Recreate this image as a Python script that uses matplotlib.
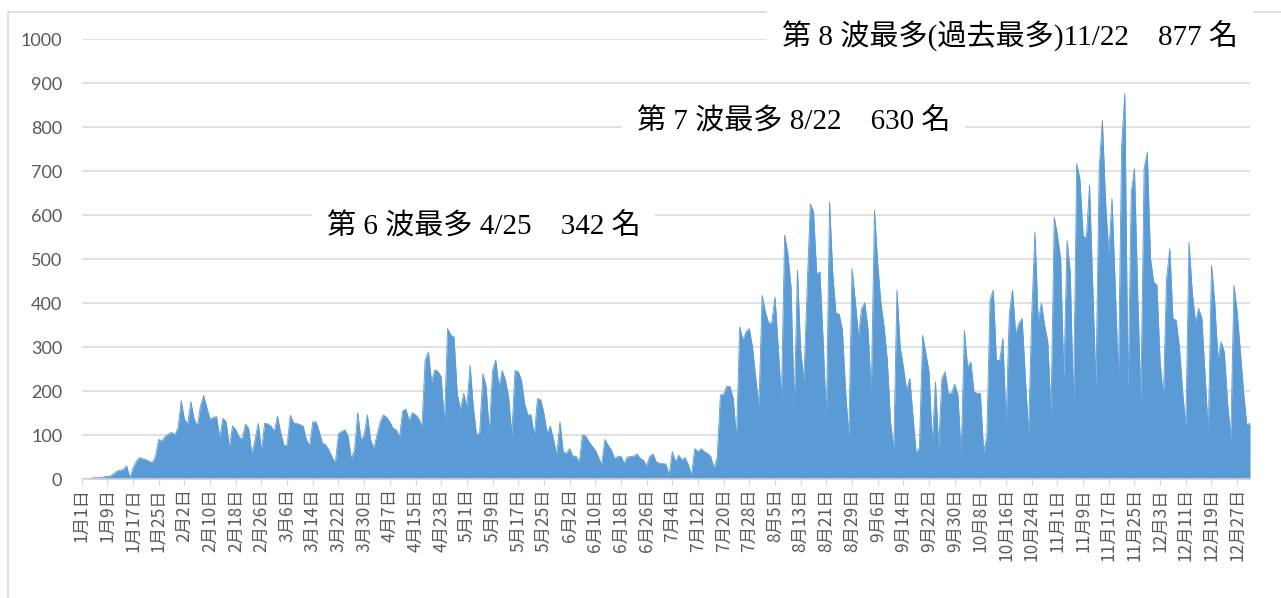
import matplotlib
matplotlib.use("Agg")
import matplotlib.pyplot as plt
from matplotlib.lines import Line2D
import datetime as dt
import numpy as np

# ---- data: daily counts 2022 ----
jan = [0, 0, 1, 2, 3, 3, 3, 5, 6, 7, 12, 18, 20, 22, 30, 3, 25, 40, 49, 46,
       44, 40, 37, 52, 90, 86, 97, 102, 106, 101, 115]
feb = [178, 136, 125, 176, 138, 119, 166, 190, 162, 136, 140, 142, 94, 138,
       130, 72, 121, 112, 96, 90, 125, 115, 56, 89, 127, 64, 127, 125]
mar = [120, 108, 143, 105, 76, 78, 145, 128, 126, 124, 120, 89, 76, 130, 130,
       108, 81, 78, 66, 50, 36, 103, 108, 112, 97, 45, 66, 151, 89, 100, 146]
apr = [89, 70, 100, 130, 146, 140, 130, 115, 112, 94, 155, 159, 133, 151, 146,
       138, 119, 270, 289, 221, 248, 245, 232, 127, 342, 327, 323, 195, 157, 195]
may = [165, 259, 165, 100, 106, 240, 210, 106, 247, 270, 210, 247, 225, 187,
       100, 247, 244, 225, 172, 146, 146, 97, 183, 180, 150, 105, 120, 90, 55,
       130, 62]
jun = [58, 69, 52, 52, 37, 100, 98, 85, 75, 66, 50, 32, 90, 77, 66, 47, 51, 52,
       36, 50, 51, 52, 57, 47, 43, 30, 52, 57, 39, 36]
jul = [35, 34, 9, 62, 39, 54, 43, 49, 32, 9, 69, 62, 69, 62, 58, 51, 24, 50,
       191, 193, 211, 210, 183, 92, 346, 316, 335, 342, 300, 230, 168]
aug = [418, 380, 355, 355, 414, 301, 180, 555, 513, 437, 164, 475, 293, 225,
       430, 626, 608, 467, 471, 316, 134, 630, 467, 377, 375, 339, 200, 96,
       479, 407, 324]
sep = [388, 401, 339, 195, 611, 490, 400, 346, 270, 130, 66, 430, 301, 255,
       202, 229, 142, 58, 73, 327, 286, 244, 81, 221, 73, 229, 244, 195, 195,
       216]
oct_ = [191, 55, 338, 255, 266, 198, 195, 195, 62, 96, 407, 430, 270, 269, 320,
        127, 376, 430, 331, 354, 365, 232, 104, 376, 562, 358, 400, 350, 312,
        149, 596]
nov = [554, 501, 229, 543, 471, 168, 717, 683, 554, 547, 668, 441, 210, 706,
       816, 630, 513, 638, 441, 225, 759, 877, 198, 653, 706, 425, 180, 706,
       744, 501]
dec = [448, 441, 267, 183, 456, 524, 365, 361, 300, 200, 119, 539, 425, 357,
       388, 365, 236, 107, 486, 403, 274, 312, 289, 175, 92, 441, 380, 289,
       198, 123, 127]

values = jan + feb + mar + apr + may + jun + jul + aug + sep + oct_ + nov + dec

start = dt.date(2022, 1, 1)
dates = [start + dt.timedelta(days=i) for i in range(len(values))]
categories = [f"{d.month}月{d.day}日" for d in dates]
tick_idx = list(range(0, len(values), 8))
tick_labels = [categories[i] for i in tick_idx]
y_ticks = [0, 100, 200, 300, 400, 500, 600, 700, 800, 900, 1000]

notes = ["第 8 波最多(過去最多)11/22\u3000877 名",
         "第 7 波最多 8/22\u3000630 名",
         "第 6 波最多 4/25\u3000342 名"]

# ---- figure ----
W, H = 1281, 598
fig = plt.figure(figsize=(W / 100, H / 100), dpi=100)
fig.patch.set_facecolor("white")

ax = fig.add_axes([81.7 / W, 1 - 479 / H, (1250 - 81.7) / W, (479 - 39.3) / H])
x = np.arange(len(values))
ax.fill_between(x, 0, values, color="#5B9BD5", lw=0, zorder=2)
ax.plot(x, values, color="#5B9BD5", lw=0.6, zorder=2)

ax.set_xlim(0, len(values) - 1)
ax.set_ylim(0, 1000)
ax.set_yticks(y_ticks)
ax.set_yticklabels([str(v) for v in y_ticks], family="Lato", fontsize=13,
                   color="#595959")
ax.yaxis.grid(True, color="#D9D9D9", lw=1.1, zorder=0)
ax.set_axisbelow(True)
ax.tick_params(axis="y", length=0, pad=14)

ax.set_xticks(tick_idx)
ax.set_xticklabels(tick_labels, rotation=90, fontsize=12.5,
                   family=["Noto Sans CJK JP", "DejaVu Sans"], color="#595959")
ax.tick_params(axis="x", length=4.5, width=1, color="#D9D9D9", pad=2)

for s in ["top", "right", "left"]:
    ax.spines[s].set_visible(False)
ax.spines["bottom"].set_color("#D9D9D9")
ax.spines["bottom"].set_linewidth(1.1)

# outer border
fig.add_artist(Line2D([8 / W, 8 / W], [0, 1 - 12 / H], color="#D9D9D9", lw=1.2,
                      transform=fig.transFigure))
fig.add_artist(Line2D([8 / W, 1], [1 - 12 / H, 1 - 12 / H], color="#D9D9D9",
                      lw=1.2, transform=fig.transFigure))

note_pos = [(782, 36), (637, 122), (327, 227)]
for txt, (px, py) in zip(notes, note_pos):
    fig.text(px / W, 1 - py / H, txt, ha="left", va="center", fontsize=21,
             family=["Liberation Serif", "Noto Sans CJK JP"], color="black",
             zorder=10,
             bbox=dict(boxstyle="square,pad=0.5", fc="white", ec="none"))

fig.savefig("out.png", dpi=100, facecolor="white")
